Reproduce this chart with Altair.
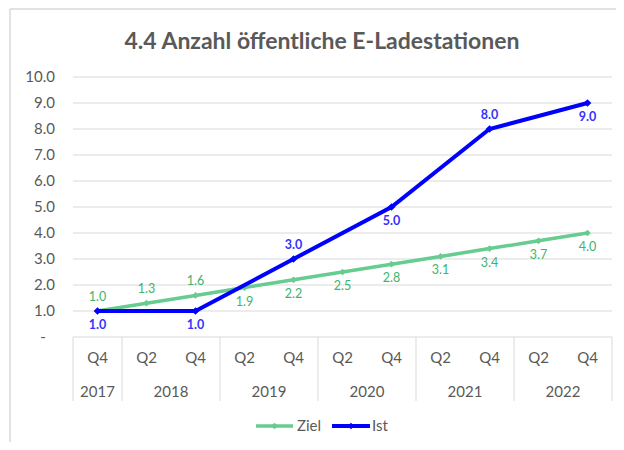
import altair as alt
import pandas as pd

# ---- data ----
quarters = ["Q4", "Q2", "Q4", "Q2", "Q4", "Q2", "Q4", "Q2", "Q4", "Q2", "Q4"]
years = ["2017", "2018", "2018", "2019", "2019", "2020", "2020", "2021", "2021", "2022", "2022"]
ziel = [1.0, 1.3, 1.6, 1.9, 2.2, 2.5, 2.8, 3.1, 3.4, 3.7, 4.0]
ist = [1.0, None, 1.0, None, 3.0, None, 5.0, None, 8.0, None, 9.0]
ziel_label = ["above", "above", "above", "below", "below", "below", "below", "below", "below", "below", "below"]
ist_label = ["below", None, "below", None, "above", None, "below", None, "above", None, "below"]
y_ticks = [0, 1, 2, 3, 4, 5, 6, 7, 8, 9, 10]
series = ["Ziel", "Ist"]
title_text = "4.4 Anzahl öffentliche E-Ladestationen"

idx = list(range(len(quarters)))
rows = []
for i in idx:
    rows.append({"i": i, "series": "Ziel", "value": ziel[i], "pos": ziel_label[i]})
    if ist[i] is not None:
        rows.append({"i": i, "series": "Ist", "value": ist[i], "pos": ist_label[i]})
df = pd.DataFrame(rows)
cats = pd.DataFrame({"i": idx, "q": quarters, "year": years})
yr = cats.groupby("year", as_index=False)["i"].mean()
bounds = [-0.5] + [i - 0.5 for i in idx[1:] if years[i] != years[i - 1]] + [len(idx) - 0.5]
bdf = pd.DataFrame({"b": bounds})
tdf = pd.DataFrame({"value": y_ticks,
                    "label": ["-" if v == 0 else f"{v:.1f}" for v in y_ticks],
                    "zero": [v == 0 for v in y_ticks]})

W, H = 539, 260
FONT = "Lato"
GRAY = "#595959"
LINE = "#d9d9d9"
colors = {"Ziel": "#66CC8F", "Ist": "#0000FF"}
label_colors = {"Ziel": "#3CB46B", "Ist": "#3333FF"}

xs = alt.Scale(domain=[-0.5, len(idx) - 0.5], nice=False, zero=False)
ys = alt.Scale(domain=[0, 10], nice=False)
X = alt.X("i:Q", scale=xs, axis=None)
Y = alt.Y("value:Q", scale=ys, axis=None)

layers = []
# y grid and labels
layers.append(alt.Chart(tdf).mark_rule(color=LINE, strokeWidth=1).encode(
    y=Y, x=alt.value(0), x2=alt.value(W)))
layers.append(alt.Chart(tdf).transform_filter("!datum.zero").mark_text(
    font=FONT, fontSize=15, color=GRAY, align="right", baseline="middle").encode(
    y=Y, x=alt.value(-18), text="label:N"))
layers.append(alt.Chart(tdf).transform_filter("datum.zero").mark_text(
    font=FONT, fontSize=15, color=GRAY, align="center", baseline="middle").encode(
    y=Y, x=alt.value(-30), text="label:N"))

base = alt.Chart(df)
for s in series:
    sd = base.transform_filter(alt.datum.series == s)
    lw = 4 if s == "Ist" else 3.5
    layers.append(sd.mark_line(color=colors[s], strokeWidth=lw).encode(x=X, y=Y))
    layers.append(sd.mark_point(shape="diamond", filled=True, color=colors[s], opacity=1,
                                size=60 if s == "Ist" else 45).encode(x=X, y=Y))
    for pos, dy in [("above", -14), ("below", 14)]:
        layers.append(sd.transform_filter(alt.datum.pos == pos).mark_text(
            dy=dy, font=FONT, fontSize=12.5, color=label_colors[s],
            fontWeight="bold" if s == "Ist" else "normal").encode(
            x=X, y=Y, text=alt.Text("value:Q", format=".1f")))

# category axis
layers.append(alt.Chart(bdf).mark_rule(color=LINE, strokeWidth=1).encode(
    x=alt.X("b:Q", scale=xs, axis=None), y=alt.value(H), y2=alt.value(H + 64)))
layers.append(alt.Chart(cats).mark_text(font=FONT, fontSize=15, color=GRAY, baseline="middle").encode(
    x=alt.X("i:Q", scale=xs, axis=None), y=alt.value(H + 21), text="q:N"))
layers.append(alt.Chart(yr).mark_text(font=FONT, fontSize=15, color=GRAY, baseline="middle").encode(
    x=alt.X("i:Q", scale=xs, axis=None), y=alt.value(H + 55), text="year:N"))

# chart frame (top and left border) and title
frame = pd.DataFrame({"k": [0]})
layers.append(alt.Chart(frame).mark_rule(color=LINE, strokeWidth=1.5).encode(
    x=alt.value(-63), x2=alt.value(560), y=alt.value(-68)))
layers.append(alt.Chart(frame).mark_rule(color=LINE, strokeWidth=1.5).encode(
    x=alt.value(-63), y=alt.value(-68), y2=alt.value(380)))
layers.append(alt.Chart(pd.DataFrame({"t": [title_text]})).mark_text(
    font=FONT, fontSize=23, fontWeight="bold", color=GRAY, baseline="middle", align="center").encode(
    x=alt.value(249), y=alt.value(-35), text="t:N"))

# legend
leg_pos = {"Ziel": (183, 220, 224), "Ist": (259, 297, 299)}
for s in series:
    x1, x2, tx = leg_pos[s]
    ld = pd.DataFrame({"series": [s]})
    layers.append(alt.Chart(ld).mark_rule(color=colors[s], strokeWidth=4 if s == "Ist" else 3.5).encode(
        x=alt.value(x1), x2=alt.value(x2), y=alt.value(349)))
    layers.append(alt.Chart(ld).mark_point(shape="diamond", filled=True, color=colors[s], opacity=1, size=45).encode(
        x=alt.value((x1 + x2) / 2), y=alt.value(349)))
    layers.append(alt.Chart(ld).mark_text(font=FONT, fontSize=15, color=GRAY, align="left", baseline="middle").encode(
        x=alt.value(tx), y=alt.value(349), text="series:N"))

chart = alt.layer(*layers).properties(
    width=W, height=H,
    autosize=alt.AutoSizeParams(type="none"),
    padding={"left": 65, "top": 69, "right": 4, "bottom": 105},
    background="white",
).configure_view(stroke=None)

chart.save("out.html", embed_options={"renderer": "svg", "actions": False})
